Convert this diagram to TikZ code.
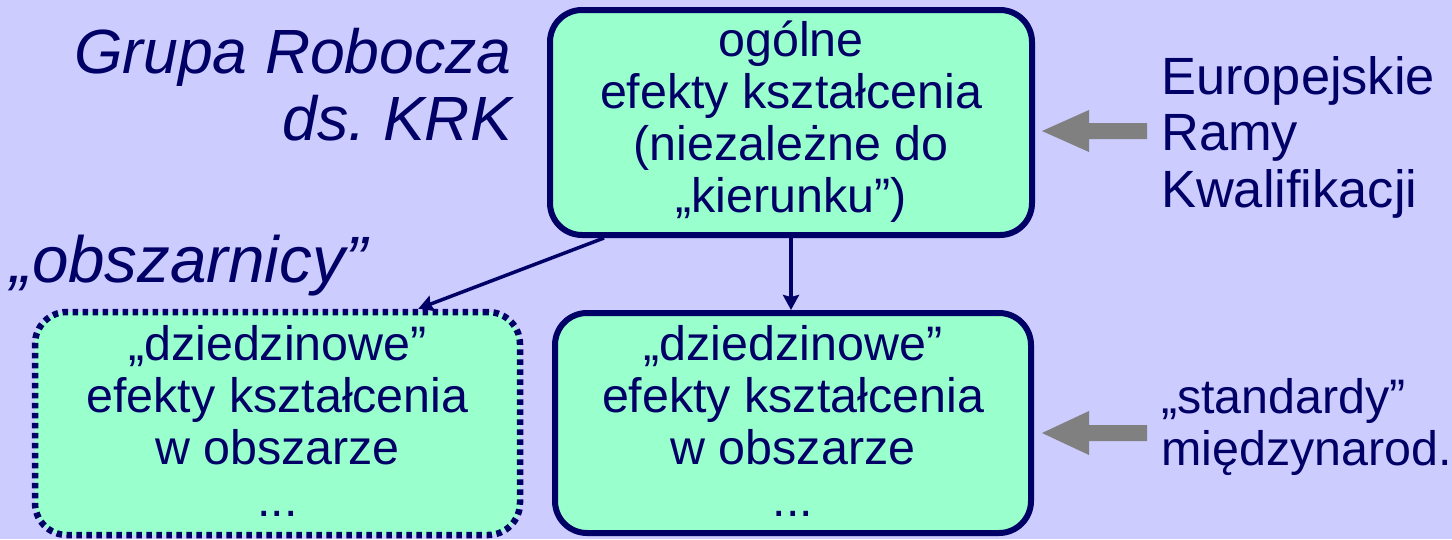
\documentclass[tikz,border=0pt]{standalone}
\usepackage{fontspec}
\setmainfont{Liberation Sans}
\usetikzlibrary{arrows.meta}
\definecolor{bgcol}{HTML}{CCCCFF}
\definecolor{boxfill}{HTML}{99FFCC}
\definecolor{navy}{HTML}{000066}
\definecolor{greyarrow}{HTML}{808080}
\begin{document}
\frenchspacing
\begin{tikzpicture}[x=1pt,y=-1pt,
  box/.style={draw=navy, fill=boxfill, line width=6pt, rounded corners=32pt,
    align=center, text=navy, inner sep=0pt, font=\fontsize{48.4}{52}\selectfont},
  dotbox/.style={box, line width=6.5pt, dash pattern=on 5.5pt off 4.5pt},
  lbl/.style={text=navy, inner sep=0pt},
  conn/.style={draw=navy, line width=3.5pt, -{Stealth[length=15pt,width=16pt,inset=2pt]}},
  blockarrow/.style={fill=greyarrow}
]
\fill[bgcol] (0,0) rectangle (1452,539);
\useasboundingbox (0,0) rectangle (1452,539);

% boxes
\node[box, minimum width=482pt, minimum height=225pt] (gen) at (791,122.5)
  {\rule{0pt}{40.4pt}ogólne\\\strut efekty kształcenia\\\strut (niezależne do\\\strut „kierunku”)};
\node[box, minimum width=476pt, minimum height=220pt] (mid) at (793,423)
  {\rule{0pt}{46.4pt}„dziedzinowe”\\\strut efekty kształcenia\\\strut w obszarze\\\strut ...};
\node[dotbox, minimum width=485pt, minimum height=223pt] (dom) at (277.5,423.5)
  {\rule{0pt}{46.4pt}„dziedzinowe”\\\strut efekty kształcenia\\\strut w obszarze\\\strut ...};

% labels
\node[lbl, anchor=north east, align=right, font=\itshape\fontsize{62.5}{66.5}\selectfont] (grupa) at (512,27)
  {\strut Grupa Robocza\\\strut ds. KRK};
\node[lbl, anchor=base west, font=\itshape\fontsize{65.5}{70}\selectfont] (obsz) at (10,282) {„obszarnicy”};
\node[lbl, anchor=north west, align=left, font=\fontsize{52.4}{56.5}\selectfont] (erk) at (1161,54.5)
  {\strut Europejskie\\\strut Ramy\\\strut Kwalifikacji};
\node[lbl, anchor=north west, align=left, font=\fontsize{48.4}{52}\selectfont] (std) at (1161,376.6)
  {\strut „standardy”\\\strut międzynarod.};

% connectors
\draw[conn] ([xshift=57pt]gen.south west) -- ([xshift=-105pt]dom.north east);
\draw[conn] (gen.south) -- (gen.south |- mid.north);

% grey block arrows
\coordinate (erkTip) at (1042,131);
\coordinate (stdTip) at (1042,433);
\fill[blockarrow] (erkTip) -- ++(47,-21) -- ++(0,13) -- ++(58,0) -- ++(0,16) -- ++(-58,0) -- ++(0,13) -- cycle;
\fill[blockarrow] (stdTip) -- ++(47,-22) -- ++(0,14) -- ++(58,0) -- ++(0,16) -- ++(-58,0) -- ++(0,14) -- cycle;
\end{tikzpicture}
\end{document}
